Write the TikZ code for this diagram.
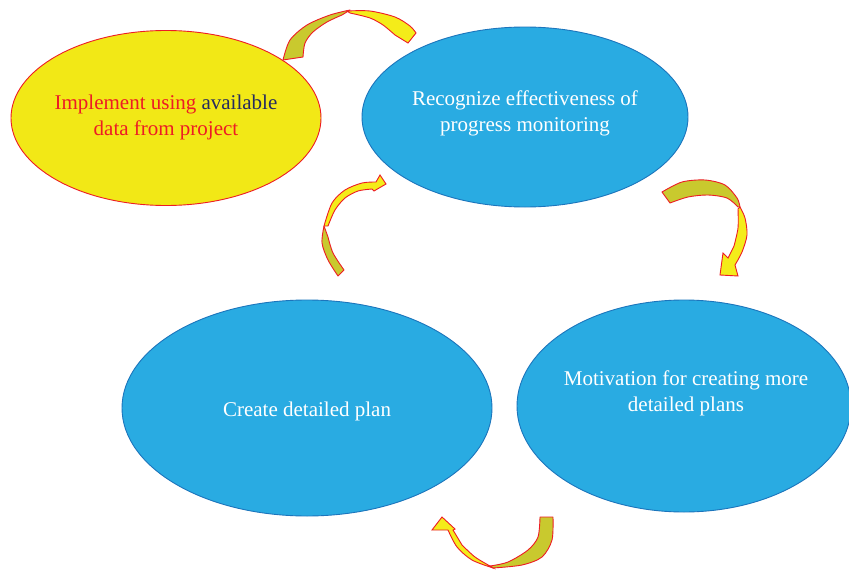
\documentclass[tikz,border=0pt]{standalone}
\usepackage{fontspec}
\setmainfont{Liberation Serif}
\usetikzlibrary{shapes.geometric}
\definecolor{bluefill}{HTML}{29ABE2}
\definecolor{blueline}{HTML}{1C75BC}
\definecolor{yelfill}{HTML}{F2E816}
\definecolor{redline}{HTML}{ED1C24}
\definecolor{navytext}{HTML}{262B5F}
\definecolor{olv}{HTML}{C9C92E}
\definecolor{yel}{HTML}{F4EC19}
\begin{document}
\begin{tikzpicture}[x=1pt,y=-1pt,
  blueell/.style={ellipse, draw=blueline, fill=bluefill, line width=0.9pt, inner sep=0pt},
  yelell/.style={ellipse, draw=redline, fill=yelfill, line width=0.9pt, inner sep=0pt},
  lbl/.style={align=center, font=\fontsize{21}{26}\selectfont, inner sep=0pt},
  backpart/.style={draw=redline, fill=olv, line width=0.9pt, line join=round},
  frontpart/.style={draw=redline, fill=yel, line width=0.9pt, line join=miter}]
\useasboundingbox (0,0) rectangle (849,570);
\fill[white] (0,0) rectangle (849,570);
% ellipses
\node[yelell, minimum width=310pt, minimum height=175pt] (impl) at (166,118) {};
\node[blueell, minimum width=326pt, minimum height=180pt] (recog) at (525,117) {};
\node[blueell, minimum width=370pt, minimum height=216pt] (create) at (307,408) {};
\node[blueell, minimum width=334pt, minimum height=212pt] (motiv) at (684,406) {};
% texts
\node[lbl, text=redline] (implT) at (166,117) {Implement using \textcolor{navytext}{available}\\data from project};
\node[lbl, text=white] (recogT) at (525,113) {Recognize effectiveness of\\progress monitoring};
\node[lbl, text=white] (createT) at (307,411) {Create detailed plan};
\node[lbl, text=white] (motivT) at (686,393) {Motivation for creating more\\detailed plans};
% arrow 1 (top)
\draw[backpart] plot[smooth] coordinates {(283,60) (290,40) (307,25) (330,15) (350,10)}
  -- plot[smooth] coordinates {(342,15) (327,22) (313,32) (305,43) (303,57)} -- cycle;
\draw[frontpart] plot[smooth] coordinates {(347,11) (370,11) (395,17) (410,26) (416,33)}
  -- (408,43) -- plot[smooth] coordinates {(395,35) (383,25) (370,18) (350,13)} -- cycle;
% arrow 2 (left)
\draw[backpart] plot[smooth] coordinates {(338,276) (328,260) (322,243) (324,226)}
  -- plot[smooth] coordinates {(328,237) (333,253) (344,270)} -- cycle;
\draw[frontpart] plot[smooth] coordinates {(324,226) (332,203) (345,190) (362,183) (376,182)}
  -- (380,175) -- (386,184) -- (374,191) -- plot[smooth] coordinates {(372,189) (358,191) (345,198) (335,210) (328,226)} -- cycle;
% arrow 3 (right)
\draw[backpart] plot[smooth] coordinates {(662,192) (682,182) (705,180) (725,185) (737,198) (740,207)}
  -- plot[smooth] coordinates {(738,207) (727,198) (708,195) (688,197) (670,203)} -- cycle;
\draw[frontpart] plot[smooth] coordinates {(740,207) (745,218) (747,235) (742,252) (735,265)}
  -- (738,276) -- (720,275) -- (723,253) -- (728,258) -- plot[smooth] coordinates {(734,246) (738,228) (738,209)} -- cycle;
% arrow 4 (bottom)
\draw[backpart] plot[smooth] coordinates {(553,517) (552,540) (542,557) (522,565) (493,568)}
  -- plot[smooth] coordinates {(490,566) (508,562) (528,550) (538,537) (540,517)} -- cycle;
\draw[frontpart] plot[smooth] coordinates {(493,568) (472,560) (457,547) (448,530)}
  -- (432,530) -- (442,517) -- (455,529) -- (453,530) -- plot[smooth] coordinates {(462,545) (475,557) (490,566)} -- cycle;
\end{tikzpicture}
\end{document}
